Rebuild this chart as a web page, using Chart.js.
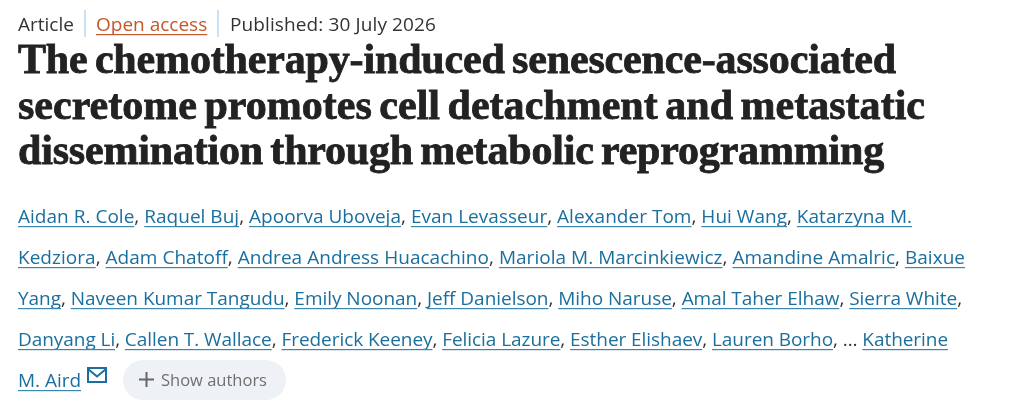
<!DOCTYPE html>
<html>
<head>
<meta charset="utf-8">
<title>Article header</title>
<script src="https://cdn.jsdelivr.net/npm/chart.js@4"></script>
<style>
  html, body { margin: 0; padding: 0; background: #fff; overflow: hidden; }
  canvas { display: block; }
</style>
</head>
<body>
<canvas id="page" width="1024" height="419"></canvas>
<script>
// ---------- CONTENT ----------
// The reference is an article header: it has no series, so the chart has no data.
const categories = [];
const seriesValues = [];

const articleType = "Article";
const accessLabel = "Open access";
const publishedLabel = "Published: 30 July 2026";
const showAuthorsLabel = "Show authors";

const titleLines = [
    "The chemotherapy-induced senescence-associated",
    "secretome promotes cell detachment and metastatic",
    "dissemination through metabolic reprogramming"
];

const authorLines = [
    "Aidan R. Cole, Raquel Buj, Apoorva Uboveja, Evan Levasseur, Alexander Tom, Hui Wang, Katarzyna M.",
    "Kedziora, Adam Chatoff, Andrea Andress Huacachino, Mariola M. Marcinkiewicz, Amandine Amalric, Baixue",
    "Yang, Naveen Kumar Tangudu, Emily Noonan, Jeff Danielson, Miho Naruse, Amal Taher Elhaw, Sierra White,",
    "Danyang Li, Callen T. Wallace, Frederick Keeney, Felicia Lazure, Esther Elishaev, Lauren Borho, … Katherine",
    "M. Aird"
];

// ---------- STYLE ----------
const bodyFont = "19px 'Open Sans'";
const titleFont = "bold 42px 'Liberation Serif'";
const linkColor = "#1a6f9e";
const underlineColor = "#3f86ad";
const textColor = "#333333";
const titleColor = "#222222";
const accessColor = "#c4572a";
const separatorColor = "#c9e1f3";

// right edge of each text line in the reference
const titleEnds = [896, 925, 884];
const authorEnds = [912, 965, 962, 948, 81];
const publishedEnd = 436;

// ---------- HELPERS ----------
function fitSpacing(ctx, text, width) {
    ctx.letterSpacing = "0px";
    const natural = ctx.measureText(text).width;
    ctx.letterSpacing = ((width - natural) / text.length).toFixed(3) + "px";
}

function underlinedText(ctx, text, x, y, color, lineColor) {
    ctx.fillStyle = color;
    ctx.fillText(text, x, y);
    const w = ctx.measureText(text).width;
    ctx.fillStyle = lineColor;
    ctx.fillRect(x, y + 3, w, 1.2);
    return x + w;
}

function drawAuthorLine(ctx, line, y, end) {
    let x = 18;
    fitSpacing(ctx, line, end - x);
    line.split(/(, ?|… ?)/).forEach((part, i) => {
        if (!part) return;
        if (i % 2) {
            ctx.fillStyle = textColor;
            ctx.fillText(part, x, y);
            x += ctx.measureText(part).width;
        } else {
            x = underlinedText(ctx, part, x, y, linkColor, underlineColor);
        }
    });
}

function drawMail(ctx, x, y, w, h) {
    ctx.strokeStyle = linkColor;
    ctx.lineWidth = 2;
    ctx.strokeRect(x, y, w, h);
    ctx.beginPath();
    ctx.moveTo(x, y + 1);
    ctx.lineTo(x + w / 2, y + h * 0.6);
    ctx.lineTo(x + w, y + 1);
    ctx.stroke();
}

// ---------- PAGE PLUGIN ----------
const articleHeader = {
    id: "articleHeader",
    afterDraw(chart) {
        const ctx = chart.ctx;
        ctx.save();
        ctx.textBaseline = "alphabetic";
        ctx.textAlign = "left";

        // meta row
        ctx.font = bodyFont;
        ctx.fillStyle = textColor;
        ctx.fillText(articleType, 18, 31);
        underlinedText(ctx, accessLabel, 96, 31, accessColor, accessColor);
        fitSpacing(ctx, publishedLabel, publishedEnd - 230);
        ctx.fillStyle = textColor;
        ctx.fillText(publishedLabel, 230, 31);
        ctx.letterSpacing = "0px";
        ctx.fillStyle = separatorColor;
        ctx.fillRect(84, 10, 2, 27);
        ctx.fillRect(217, 10, 2, 27);

        // headline, stroked a little to reach the weight of the original face
        ctx.font = titleFont;
        ctx.wordSpacing = "-3px";
        ctx.fillStyle = titleColor;
        ctx.strokeStyle = titleColor;
        ctx.lineWidth = 0.8;
        titleLines.forEach((line, i) => {
            const y = 73 + i * 45.5;
            fitSpacing(ctx, line, titleEnds[i] - 18);
            ctx.fillText(line, 18, y);
            ctx.strokeText(line, 18, y);
        });
        ctx.wordSpacing = "0px";

        // authors
        ctx.font = bodyFont;
        authorLines.forEach((line, i) => drawAuthorLine(ctx, line, 223 + i * 41, authorEnds[i]));
        ctx.letterSpacing = "0px";
        drawMail(ctx, 88, 368, 18, 14);

        // show authors pill
        ctx.fillStyle = "#eef1f5";
        ctx.beginPath();
        ctx.roundRect(123, 360, 163, 40, 20);
        ctx.fill();
        ctx.fillStyle = "#666666";
        ctx.fillRect(139, 378.5, 15, 2);
        ctx.fillRect(145.5, 372, 2, 15);
        ctx.font = "16.5px 'Open Sans'";
        ctx.fillStyle = "#6f6f6f";
        ctx.fillText(showAuthorsLabel, 161, 386);
        ctx.restore();
    }
};

// ---------- CHART ----------
new Chart(document.getElementById("page"), {
    type: "bar",
    data: { labels: categories, datasets: [{ data: seriesValues }] },
    plugins: [articleHeader],
    options: {
        responsive: false,
        animation: false,
        devicePixelRatio: 1,
        scales: { x: { display: false }, y: { display: false } },
        plugins: {
            legend: { display: false },
            tooltip: { enabled: false }
        }
    }
});
</script>
</body>
</html>
